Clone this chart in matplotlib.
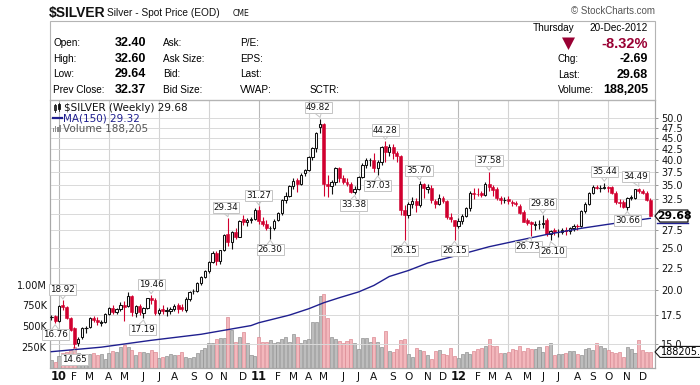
#!/usr/bin/env python3
"""Weekly $SILVER candles with 150-week MA and volume, StockCharts style."""

import matplotlib

matplotlib.use("Agg")
import matplotlib.pyplot as plt
from matplotlib.lines import Line2D
from matplotlib.patches import Polygon, Rectangle
from matplotlib.ticker import FixedFormatter, FixedLocator, NullLocator
from matplotlib.transforms import blended_transform_factory
import numpy as np
import pandas as pd


W, H = 700, 385
RED = "#d1002f"
DARK_RED = "#990033"
NAVY = "#1f1f8f"
INK = "#111111"
GRID = "#d9d9d9"
FRAME = "#a8a8a8"
HEAD = "Liberation Sans"
BODY = "DejaVu Sans"

# weekly bars, first bar is the week starting 2009-12-21
FIRST_WEEK = "2009-12-21"
opens = [
    17.28, 17.40, 17.00, 18.45, 18.30, 17.20, 16.30, 15.05, 15.60, 16.30,
    16.40, 17.20, 17.05, 16.80, 16.90, 17.60, 18.20, 17.75, 18.10, 18.50,
    18.40, 19.40, 17.70, 18.40, 17.70, 18.20, 19.20, 18.95, 17.70, 18.10,
    17.85, 17.90, 18.05, 18.50, 18.30, 17.95, 19.10, 19.95, 19.90, 20.80,
    21.40, 22.10, 23.20, 24.40, 23.40, 24.70, 26.90, 25.90, 27.30, 26.60,
    29.20, 28.70, 29.10, 29.20, 30.60, 28.90, 28.50, 27.80, 27.90, 29.00,
    30.10, 32.40, 33.00, 34.90, 35.90, 35.20, 37.30, 38.00, 40.60, 42.60,
    47.60, 48.60, 35.30, 34.90, 35.50, 38.30, 36.30, 35.60, 35.30, 33.70,
    34.30, 36.60, 38.90, 40.00, 40.10, 38.40, 39.50, 43.10, 41.70, 43.00,
    41.60, 40.80, 30.70, 29.90, 31.60, 32.20, 31.40, 35.20, 34.20, 34.50,
    32.20, 31.60, 32.70, 32.20, 29.60, 29.00, 28.20, 28.90, 29.70, 30.90,
    33.60, 33.40, 33.50, 33.20, 35.30, 34.60, 34.20, 32.70, 32.30, 32.50,
    32.00, 31.90, 31.30, 30.40, 29.10, 28.70, 28.30, 28.40, 28.50, 29.10,
    26.90, 27.60, 27.20, 27.30, 27.40, 27.40, 27.80, 28.10, 28.10, 30.50,
    31.60, 33.60, 34.60, 34.50, 34.50, 34.70, 34.60, 33.60, 32.00, 32.00,
    31.10, 32.60, 32.70, 34.30, 34.00, 33.50, 32.40,
]
highs = [
    17.50, 17.50, 18.50, 18.92, 18.40, 17.35, 16.40, 15.60, 16.45, 16.55,
    17.30, 17.45, 17.30, 17.05, 17.70, 18.30, 18.45, 18.20, 18.80, 18.85,
    19.83, 19.50, 18.50, 18.60, 18.30, 19.20, 19.46, 19.20, 18.20, 18.50,
    18.30, 18.30, 18.60, 18.70, 18.60, 19.30, 19.90, 20.10, 20.90, 21.60,
    22.20, 23.30, 24.60, 24.60, 24.80, 26.90, 29.34, 27.40, 27.90, 29.10,
    29.90, 29.40, 29.50, 30.90, 31.27, 29.60, 29.00, 28.10, 29.20, 30.40,
    32.50, 33.80, 35.00, 36.30, 36.30, 37.40, 38.20, 40.90, 43.00, 46.40,
    49.82, 48.70, 37.00, 36.00, 38.60, 38.50, 37.00, 36.40, 35.60, 34.90,
    36.80, 39.30, 40.40, 40.40, 41.50, 40.00, 43.20, 44.28, 43.50, 43.60,
    42.00, 41.20, 31.50, 32.00, 32.90, 32.70, 35.70, 35.40, 35.30, 35.00,
    32.50, 33.40, 33.00, 32.40, 30.10, 29.10, 29.40, 30.00, 31.10, 34.00,
    34.50, 34.40, 34.00, 35.50, 37.58, 35.00, 34.70, 33.00, 32.90, 33.10,
    32.30, 32.20, 31.60, 30.60, 29.30, 28.90, 28.90, 29.00, 29.86, 29.30,
    27.60, 27.90, 27.70, 27.90, 28.00, 28.00, 28.40, 28.40, 30.70, 32.00,
    33.80, 35.00, 35.00, 35.00, 35.44, 34.90, 34.80, 33.90, 32.50, 32.30,
    32.80, 33.20, 34.30, 34.49, 34.20, 33.90, 32.60,
]
lows = [
    17.05, 16.76, 16.90, 17.95, 17.10, 16.05, 14.65, 14.85, 15.40, 15.90,
    16.30, 16.90, 16.60, 16.55, 16.80, 17.50, 17.60, 17.60, 17.90, 17.00,
    18.30, 17.40, 17.30, 17.50, 17.19, 18.10, 18.60, 17.50, 17.50, 17.60,
    17.40, 17.60, 17.90, 17.70, 17.90, 17.80, 18.90, 19.60, 19.80, 20.50,
    21.30, 21.90, 23.10, 22.80, 23.00, 24.60, 25.30, 24.90, 26.30, 26.50,
    28.30, 28.10, 28.60, 29.00, 28.50, 28.10, 27.60, 26.30, 27.60, 28.90,
    29.90, 31.80, 32.90, 34.30, 33.70, 35.10, 36.70, 37.80, 40.10, 41.80,
    46.20, 33.00, 32.80, 33.40, 35.00, 35.50, 35.30, 34.80, 33.60, 33.38,
    34.10, 36.40, 38.40, 38.70, 37.60, 37.03, 39.00, 39.60, 40.80, 40.30,
    39.60, 29.90, 26.15, 29.30, 31.00, 30.40, 31.20, 32.70, 33.60, 31.80,
    30.90, 31.40, 31.80, 29.20, 28.80, 26.15, 27.90, 28.40, 29.50, 30.50,
    32.50, 33.00, 32.80, 33.10, 34.00, 33.00, 32.40, 31.70, 31.80, 31.70,
    31.30, 31.30, 30.00, 28.70, 28.30, 26.73, 27.60, 27.70, 27.80, 26.70,
    26.10, 26.80, 26.60, 26.90, 26.80, 26.90, 27.40, 27.60, 28.00, 30.20,
    31.40, 33.40, 34.20, 33.80, 34.20, 33.80, 33.40, 31.70, 31.20, 30.90,
    30.66, 32.30, 32.50, 33.50, 33.30, 32.20, 29.64,
]
closes = [
    17.32, 16.95, 18.40, 18.25, 17.25, 16.20, 15.00, 15.40, 16.30, 16.35,
    17.20, 17.05, 16.85, 16.85, 17.60, 18.20, 17.75, 18.10, 18.45, 18.30,
    19.40, 17.75, 18.35, 17.75, 18.20, 19.15, 18.95, 17.70, 18.00, 17.90,
    17.95, 18.10, 18.40, 18.10, 18.05, 19.10, 19.80, 19.85, 20.80, 21.40,
    22.10, 23.20, 24.40, 23.40, 24.70, 26.80, 25.90, 27.20, 26.60, 28.90,
    28.70, 29.10, 29.25, 30.60, 28.90, 28.50, 27.80, 27.90, 28.90, 30.10,
    32.40, 33.00, 34.90, 35.70, 35.20, 37.00, 38.00, 40.60, 42.60, 46.10,
    48.60, 35.30, 34.90, 35.50, 38.30, 36.30, 35.60, 35.30, 33.70, 34.30,
    36.60, 38.90, 40.00, 40.10, 38.40, 39.50, 43.00, 41.70, 43.00, 41.60,
    40.80, 30.70, 29.90, 31.60, 32.20, 31.40, 35.20, 34.50, 34.60, 32.30,
    31.60, 32.70, 32.20, 29.60, 29.20, 28.20, 28.90, 29.70, 30.90, 33.60,
    33.40, 33.30, 33.20, 35.30, 34.60, 34.10, 32.60, 32.30, 32.40, 32.10,
    31.90, 31.60, 30.20, 28.80, 28.60, 28.40, 28.40, 28.50, 28.60, 26.90,
    27.40, 27.20, 27.30, 27.60, 27.50, 27.80, 28.20, 28.10, 30.50, 31.60,
    33.60, 34.60, 34.50, 34.50, 34.60, 34.40, 33.60, 32.00, 31.80, 31.20,
    32.60, 32.80, 34.20, 34.00, 33.50, 32.37, 29.68,
]
# thousands of contracts
volumes = [
    91, 70, 139, 171, 191, 211, 251, 171, 159, 139,
    163, 171, 151, 159, 99, 171, 199, 191, 251, 272,
    251, 211, 151, 191, 191, 171, 211, 191, 111, 130,
    139, 163, 151, 151, 191, 130, 111, 130, 171, 211,
    232, 300, 300, 340, 352, 352, 606, 453, 312, 372,
    433, 292, 151, 139, 372, 312, 312, 332, 292, 312,
    340, 372, 312, 401, 364, 300, 332, 344, 550, 550,
    864, 888, 594, 372, 340, 324, 292, 324, 340, 292,
    220, 352, 352, 312, 364, 312, 244, 441, 199, 191,
    220, 332, 340, 163, 123, 232, 211, 199, 151, 103,
    203, 211, 159, 151, 232, 139, 118, 163, 183, 163,
    199, 223, 232, 260, 344, 260, 260, 171, 171, 183,
    223, 211, 260, 199, 232, 223, 223, 244, 183, 260,
    292, 151, 163, 159, 171, 199, 199, 163, 151, 220,
    239, 211, 292, 260, 239, 211, 191, 179, 187, 123,
    244, 220, 171, 332, 211, 183, 188.205,
]

# 150-week moving average (bar position, value)
ma_weeks = [0, 13, 26, 39, 52, 54, 62, 67, 71, 75, 80, 84, 88, 93,
            98, 106, 114, 122, 129, 138, 145, 151, 156]
ma_values = [14.40, 14.75, 15.30, 15.80, 16.55, 16.80, 17.50, 18.10, 18.70,
             19.20, 19.80, 20.50, 21.50, 22.20, 23.10, 24.10, 25.20, 26.10,
             26.90, 27.80, 28.40, 28.90, 29.32]

swing_highs = [3, 26, 46, 54, 70, 87, 96, 114, 128, 144, 153]
swing_lows = [1, 6, 24, 57, 79, 85, 92, 105, 125, 130, 150]
label_shift = {24: -1, 46: -2, 70: -2, 79: -1, 96: -1, 125: -3, 130: 2, 153: -3}

price_ticks = [15.0, 17.5, 20.0, 22.5, 25.0, 27.5, 30.0, 32.5, 35.0,
               37.5, 40.0, 42.5, 45.0, 47.5, 50.0]
volume_ticks = [250e3, 500e3, 750e3, 1e6]
volume_tick_labels = ["250K", "500K", "750K", "1.00M"]

header_left = [
    ("Open:", "32.40", "Ask:", "P/E:"),
    ("High:", "32.60", "Ask Size:", "EPS:"),
    ("Low:", "29.64", "Bid:", "Last:"),
    ("Prev Close:", "32.37", "Bid Size:", "VWAP:"),
]
header_right = [("Chg:", "-2.69"), ("Last:", "29.68"), ("Volume:", "188,205")]


def fx(x):
    return x / W


def fy(y):
    return 1 - y / H


def ftext(fig, x, y, s, **kw):
    kw.setdefault("va", "center")
    kw.setdefault("fontfamily", HEAD)
    fig.text(fx(x), fy(y), s, **kw)


def fline(fig, xs, ys, **kw):
    fig.add_artist(Line2D([fx(v) for v in xs], [fy(v) for v in ys],
                          transform=fig.transFigure, **kw))


def fpoly(fig, pts, **kw):
    fig.add_artist(Polygon([(fx(a), fy(b)) for a, b in pts], closed=True,
                           transform=fig.transFigure, **kw))


def draw_header(fig):
    ftext(fig, 49, 13, "$SILVER", fontsize=10, fontweight="bold", color=INK)
    ftext(fig, 107, 13.5, "Silver - Spot Price (EOD)", fontsize=7.3, color=INK)
    ftext(fig, 233, 14, "CME", fontsize=5.6, fontfamily=BODY, color=INK)
    ftext(fig, 655, 11.5, "\u00a9 StockCharts.com", fontsize=7, color="#555555",
          ha="right")
    fig.add_artist(Rectangle((fx(49.5), fy(100)), fx(655) - fx(49.5),
                             fy(20.7) - fy(100), transform=fig.transFigure,
                             fill=False, ec="#b4b4b4", lw=0.8))
    for row, (lab, val, lab2, lab3) in enumerate(header_left):
        y = 43.5 + row * 15.4
        ftext(fig, 53, y, lab, fontsize=7.2)
        ftext(fig, 115, y, val, fontsize=9, fontweight="bold")
        ftext(fig, 163, y, lab2, fontsize=7.2)
        ftext(fig, 240, y, lab3, fontsize=7.2)
    ftext(fig, 310, 43.5 + 3 * 15.4, "SCTR:", fontsize=7.2)

    ftext(fig, 533, 28, "Thursday", fontsize=7.2)
    ftext(fig, 648, 28, "20-Dec-2012", fontsize=7.2, ha="right")
    fpoly(fig, [(562, 37.5), (575, 37.5), (568.5, 50)], fc=DARK_RED, ec="none")
    ftext(fig, 648, 43.5, "-8.32%", fontsize=10.5, fontweight="bold",
          color=DARK_RED, ha="right")
    for row, (lab, val) in enumerate(header_right):
        y = 59.5 + row * 15.2
        ftext(fig, 558, y, lab, fontsize=7.2)
        ftext(fig, 648, y, val, fontsize=9, fontweight="bold", ha="right")


def draw_legend(fig):
    # tiny candle glyph
    fline(fig, [54.5, 54.5], [103.5, 111.5], color=INK, lw=0.6)
    fig.add_artist(Rectangle((fx(53.5), fy(110)), 2 / W, 5 / H,
                             transform=fig.transFigure, fc="white", ec=INK, lw=0.6))
    fline(fig, [58.5, 58.5], [103, 111], color=INK, lw=0.6)
    fig.add_artist(Rectangle((fx(57.5), fy(109)), 2 / W, 5 / H,
                             transform=fig.transFigure, fc=INK, ec=INK, lw=0.6))
    ftext(fig, 64, 107.7, "$SILVER (Weekly) 29.68", fontsize=7.5,
          fontfamily=BODY, color=INK)
    fline(fig, [53, 61.5], [118.3, 118.3], color=NAVY, lw=1.6)
    ftext(fig, 63, 118.3, "MA(150) 29.32", fontsize=7.5, fontfamily=BODY,
          color=NAVY)
    for k, hgt in enumerate([4, 6, 5, 7]):
        fig.add_artist(Rectangle((fx(52.5 + 2.3 * k), fy(132.5)), 1.6 / W,
                                 hgt / H, transform=fig.transFigure,
                                 fc="#8c8c8c", ec="none"))
    ftext(fig, 63, 128.7, "Volume 188,205", fontsize=7.5, fontfamily=BODY,
          color="#555555")


def main():
    plt.rcParams.update({"font.family": BODY, "axes.linewidth": 0.8})

    o = np.asarray(opens)
    h = np.asarray(highs)
    lo = np.asarray(lows)
    c = np.asarray(closes)
    vol = np.asarray(volumes) * 1000
    pos = np.arange(len(c))
    weeks = pd.date_range(FIRST_WEEK, periods=len(c), freq="W-MON")

    prev = np.concatenate(([o[0]], c[:-1]))
    down = c < prev
    filled = c < o

    fig = plt.figure(figsize=(W / 100, H / 100), dpi=100)
    left, right, top, bottom = 49.5, 655, 100, 368
    ax_v = fig.add_axes([fx(left), fy(bottom), fx(right) - fx(left),
                         fy(top) - fy(bottom)])
    ax_p = ax_v.twinx()

    x_lo = (left - 51.32) / 3.84
    x_hi = (right - 51.32) / 3.84

    # volume layer (behind)
    ax_v.bar(pos[~down], vol[~down], width=0.8, color="#bdbdbd",
             edgecolor="#939393", linewidth=0.5, zorder=2)
    ax_v.bar(pos[down], vol[down], width=0.8, color="#f3b7bc",
             edgecolor="#dc8a93", linewidth=0.5, zorder=2)
    ax_v.set_ylim(-6e3, 3.23e6)
    ax_v.set_xlim(x_lo, x_hi)
    ax_v.set_yticks(volume_ticks, volume_tick_labels)
    ax_v.tick_params(axis="y", length=0, pad=2, labelsize=7, colors=INK)

    # quarter gridlines
    months = weeks.month.values
    starts = [i for i in range(1, len(weeks)) if months[i] != months[i - 1]]
    for i in starts:
        if months[i] in (1, 4, 7, 10):
            col = "#b9b9b9" if months[i] == 1 else "#d3d3d3"
            ax_v.axvline(i, color=col, lw=0.8, zorder=1)

    ax_v.set_xticks([])
    trans = blended_transform_factory(ax_v.transData, fig.transFigure)
    for i in starts:
        if months[i] == 1:
            lab, kw = f"{weeks[i].year % 100:02d}", {"fontweight": "bold",
                                                     "fontsize": 8.3}
        else:
            lab, kw = weeks[i].strftime("%b")[0], {"fontsize": 7.6}
        ax_v.text(i, fy(376.8), lab, transform=trans, ha="center",
                  va="center", color=INK, **kw)

    for sp in ax_v.spines.values():
        sp.set_color(FRAME)
        sp.set_linewidth(0.8)

    # price layer
    ax_p.set_yscale("log")
    ax_p.set_ylim(13.20, 55.1)
    ax_p.set_xlim(x_lo, x_hi)
    ax_p.yaxis.set_major_locator(FixedLocator(price_ticks))
    ax_p.yaxis.set_major_formatter(FixedFormatter(
        ["" if t == 30.0 else f"{t:.1f}" for t in price_ticks]))
    ax_p.yaxis.set_minor_locator(NullLocator())
    ax_p.tick_params(axis="y", length=2, width=0.6, color="#888888", pad=2.5,
                     labelsize=7, labelcolor=INK)
    for t in price_ticks:
        ax_p.axhline(t, color=GRID, lw=0.7, zorder=0)
    for sp in ax_p.spines.values():
        sp.set_color(FRAME)
        sp.set_linewidth(0.8)

    colors = np.where(down, RED, INK)
    ax_p.vlines(pos, lo, h, colors=colors, lw=0.8, zorder=3)
    hollow = ~filled
    ax_p.bar(pos[hollow], (c - o)[hollow], bottom=o[hollow], width=0.62,
             color="white", edgecolor=colors[hollow], linewidth=0.75, zorder=4)
    ax_p.bar(pos[filled], (o - c)[filled], bottom=c[filled], width=0.78,
             color=colors[filled], edgecolor=colors[filled], linewidth=0.4,
             zorder=4)
    # keep flat weeks visible as a dash
    flat = np.abs(c - o) < 0.06
    ax_p.hlines(c[flat], pos[flat] - 0.45, pos[flat] + 0.45,
                colors=colors[flat], lw=0.8, zorder=5)

    ax_p.plot(ma_weeks, ma_values, color=NAVY, lw=1.0, zorder=6)

    # swing labels
    fig.canvas.draw()
    to_px = ax_p.transData.transform

    def swing(i, value, above):
        px, py = to_px((i, value))
        py = H - py
        cx = px + label_shift.get(i, 0)
        cy = py - 11 if above else py + 11
        ftext(fig, cx, cy, f"{value:.2f}", fontsize=6.3, fontfamily=BODY,
              ha="center", color=INK, zorder=8,
              bbox={"boxstyle": "square,pad=0.12", "fc": "white",
                    "ec": "#c4c4c4", "lw": 0.7})
        edge = cy + 5.5 if above else cy - 5.5
        tip = py - 1.5 if above else py + 1.5
        fline(fig, [cx - 3, px, cx + 3], [edge, tip, edge], color="#c4c4c4",
              lw=0.7, zorder=8)

    for i in swing_highs:
        swing(i, h[i], True)
    for i in swing_lows:
        swing(i, lo[i], False)

    # last-value markers on the right
    _, ly = to_px((0, c[-1]))
    ly = H - ly
    fline(fig, [657, 688], [222.5, 222.5], color=NAVY, lw=1.0)
    fpoly(fig, [(655, ly), (660, ly - 6), (688, ly - 6), (688, ly + 6),
                (660, ly + 6)], fc="white", ec=INK, lw=0.9, zorder=9)
    ftext(fig, 674.5, ly, f"{c[-1]:.2f}", fontsize=7.8, fontweight="bold",
          fontfamily=BODY, ha="center", zorder=10)
    vy = H - ax_v.transData.transform((0, vol[-1]))[1]
    fpoly(fig, [(655, vy), (660, vy - 5.5), (702, vy - 5.5), (702, vy + 5.5),
                (660, vy + 5.5)], fc="white", ec=INK, lw=0.8, zorder=9)
    ftext(fig, 660.5, vy, f"{vol[-1]:.1f}", fontsize=7, fontfamily=BODY,
          zorder=10)

    draw_header(fig)
    draw_legend(fig)

    fig.savefig("out.png", dpi=100)
    plt.close(fig)


if __name__ == "__main__":
    main()
